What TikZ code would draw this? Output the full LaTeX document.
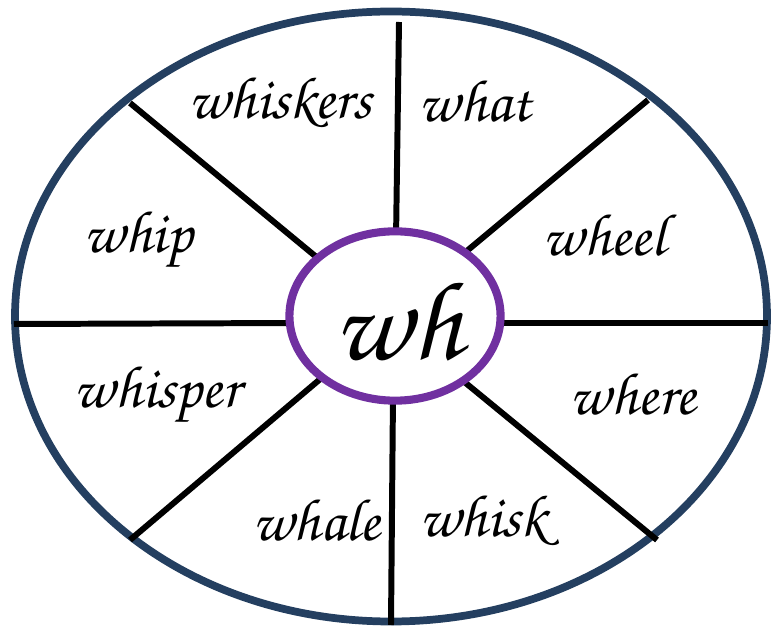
\documentclass[tikz,border=0pt]{standalone}
\usepackage[T1]{fontenc}
\usepackage{tikz}
\usetikzlibrary{shapes.geometric}

\definecolor{rimblue}{HTML}{243F60}
\definecolor{hubpurple}{HTML}{7030A0}

\tikzset{
  rim/.style={draw=rimblue,line width=4.4pt},
  hub/.style={ellipse,draw=hubpurple,line width=4.6pt,fill=white,
    minimum width=106pt*0.5669*2,minimum height=85pt*0.5669*2,inner sep=0pt},
  spoke/.style={draw=black,line width=3.4pt},
  word/.style={font=\fontfamily{pzc}\fontseries{mb}\fontshape{it}\fontsize{34}{38}\selectfont},
}

\begin{document}
\begin{tikzpicture}[x=0.02cm,y=-0.02cm]
  \useasboundingbox (0,0) rectangle (772,631);
  % outer rim
  \draw[rim] (391,316.5) ellipse [x radius=376,y radius=305];
  % spoke ends on the rim
  \coordinate (rT)  at (399,22);
  \coordinate (rB)  at (391,625);
  \coordinate (rL)  at (14,324);
  \coordinate (rR)  at (768,323);
  \coordinate (rUL) at (130,103);
  \coordinate (rUR) at (648,100);
  \coordinate (rLL) at (130,540);
  \coordinate (rLR) at (657,540);
  % spoke ends at the hub
  \coordinate (hT)  at (396,240);
  \coordinate (hB)  at (393,395);
  \coordinate (hL)  at (300,323);
  \coordinate (hR)  at (490,323);
  \coordinate (hUL) at (320,260);
  \coordinate (hUR) at (462,255);
  \coordinate (hLL) at (325,375);
  \coordinate (hLR) at (462,380);
  \foreach \s in {T,B,L,R,UL,UR,LL,LR}
    \draw[spoke] (h\s) -- (r\s);
  % hub
  \node[hub] (wh) at (395,316) {};
  \node[word,font=\fontfamily{pzc}\fontseries{mb}\fontshape{it}\fontsize{64}{68}\selectfont] (whlab) at (398,320) {wh};
  % words
  \node[word] (whiskers) at (280,103) {whiskers};
  \node[word] (what)     at (475,101) {what};
  \node[word] (whip)     at (138,240) {whip};
  \node[word] (wheel)    at (604,235) {wheel};
  \node[word] (whisper)  at (157,395) {whisper};
  \node[word] (where)    at (633,394) {where};
  \node[word] (whale)    at (316,520) {whale};
  \node[word] (whisk)    at (483,521) {whisk};
\end{tikzpicture}
\end{document}
